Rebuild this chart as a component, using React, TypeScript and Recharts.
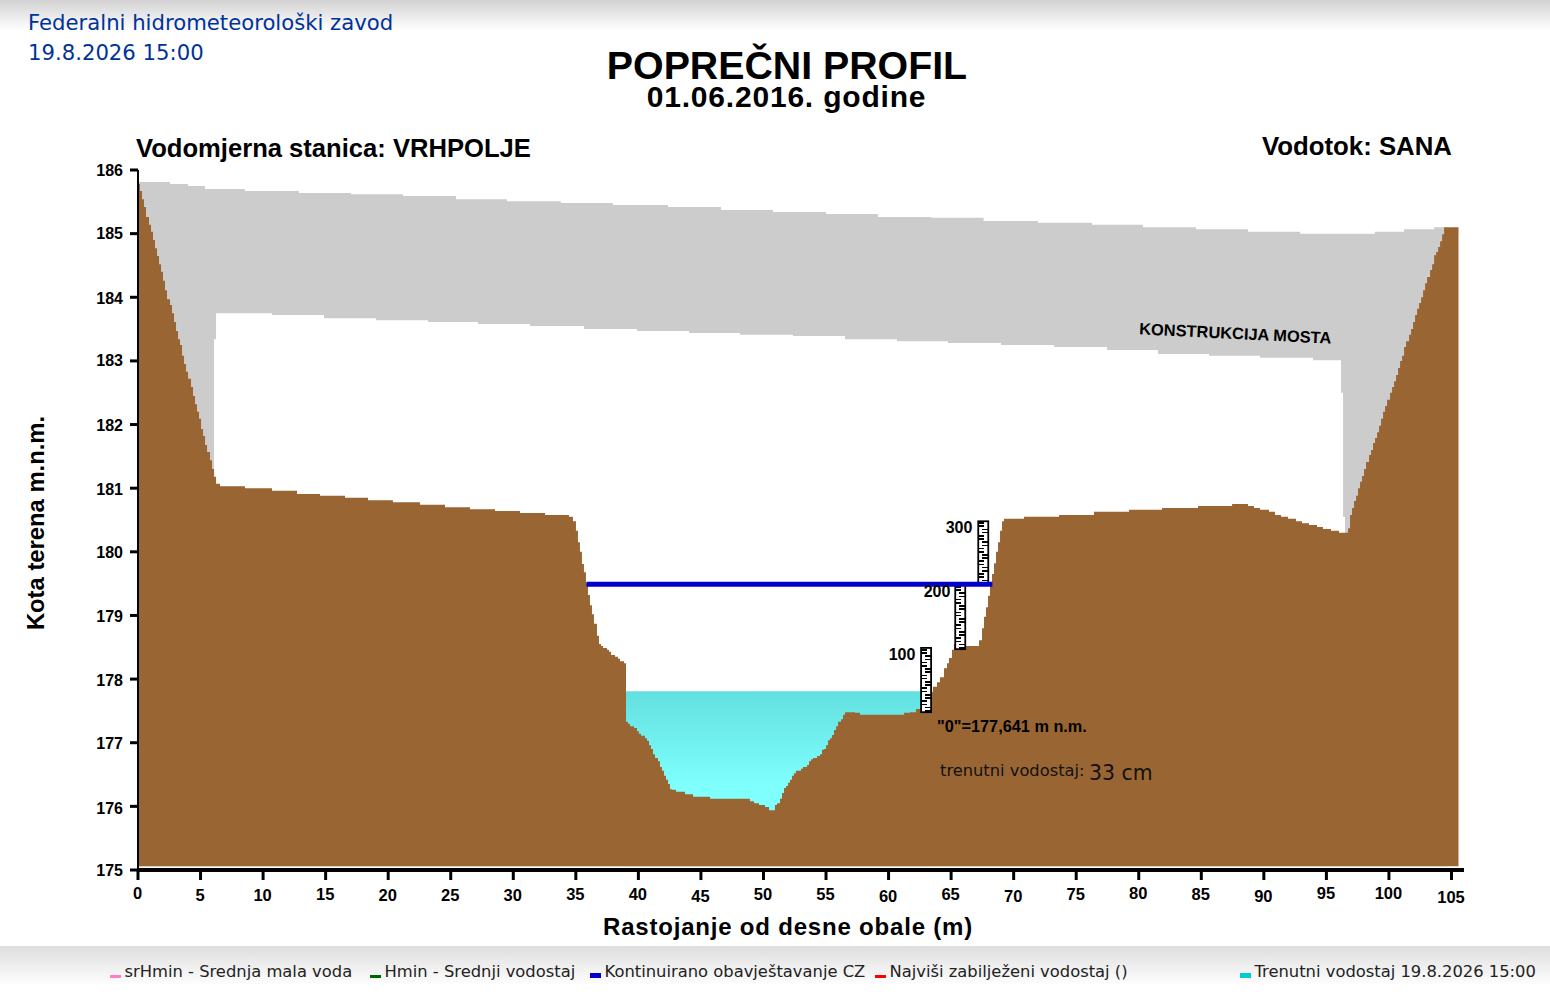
import { ComposedChart, Area, Line, XAxis, YAxis, ReferenceArea } from "recharts";

const ARIAL = "'Liberation Sans', Arial, sans-serif";
const VERDANA = "'DejaVu Sans', Verdana, sans-serif";

const distanceTicks = [0, 5, 10, 15, 20, 25, 30, 35, 40, 45, 50, 55, 60, 65, 70, 75, 80, 85, 90, 95, 100, 105];
const elevationTicks = [175, 176, 177, 178, 179, 180, 181, 182, 183, 184, 185, 186];

// the scanned axis labels do not sit on one line
const tickDrop: Record<number, number> = {
  0: -2, 5: 0, 10: 0, 15: -1, 20: 0, 25: 0, 30: 0, 35: -1, 40: -1, 45: 1, 50: -1,
  55: -1, 60: 1, 65: -1, 70: 1, 75: -1, 80: -2, 85: -1, 90: 1, 95: -2, 100: -2, 105: 2,
};
const elevationDrop: Record<number, number> = { 176: 2, 177: 1, 178: 1, 179: 1, 180: 1, 181: 1, 182: 1, 184: 1 };

// [distance m, elevation m]
const terrainPoints = [
  [0, 185.81], [0.16, 185.78], [0.32, 185.67], [0.48, 185.54], [0.64, 185.42], [0.88, 185.26], [1.04, 185.14],
  [1.2, 185.03], [1.36, 184.9], [1.52, 184.77], [1.68, 184.65], [1.84, 184.52], [2, 184.4], [2.16, 184.26],
  [2.32, 184.11], [2.56, 183.97], [2.72, 183.88], [2.88, 183.75], [3.04, 183.61], [3.2, 183.47], [3.36, 183.34],
  [3.52, 183.25], [3.68, 183.08], [3.84, 182.95], [4, 182.83], [4.24, 182.72], [4.4, 182.59], [4.56, 182.45],
  [4.72, 182.32], [4.88, 182.2], [5.04, 182.09], [5.2, 181.93], [5.36, 181.82], [5.52, 181.68], [5.76, 181.57],
  [5.92, 181.44], [6.08, 181.3], [6.24, 181.18], [6.56, 181.07], [8.55, 181.03], [10.71, 181], [12.71, 180.96],
  [14.55, 180.91], [16.55, 180.88], [18.39, 180.85], [20.38, 180.81], [22.54, 180.78], [24.54, 180.74],
  [26.54, 180.7], [28.54, 180.67], [30.54, 180.64], [32.54, 180.61], [34.45, 180.58], [34.77, 180.55],
  [35.01, 180.48], [35.17, 180.33], [35.33, 180.15], [35.49, 180], [35.65, 179.81], [35.81, 179.68],
  [35.97, 179.51], [36.13, 179.32], [36.29, 179.16], [36.45, 179.02], [36.69, 178.87], [36.85, 178.68],
  [37.01, 178.55], [37.17, 178.52], [37.49, 178.49], [37.65, 178.46], [37.81, 178.43], [38.13, 178.38],
  [38.37, 178.35], [38.53, 178.32], [38.85, 178.28], [39.01, 178.25], [39.17, 177.33], [39.33, 177.3],
  [39.65, 177.26], [39.89, 177.23], [40.05, 177.18], [40.21, 177.14], [40.53, 177.11], [40.69, 177.07],
  [40.85, 177.03], [41.01, 176.96], [41.17, 176.9], [41.33, 176.82], [41.57, 176.76], [41.73, 176.71],
  [41.89, 176.62], [42.05, 176.56], [42.21, 176.48], [42.37, 176.42], [42.53, 176.35], [42.69, 176.27],
  [43.01, 176.26], [43.73, 176.23], [44.37, 176.19], [45.73, 176.15], [48.92, 176.12], [49.24, 176.08],
  [49.64, 176.05], [50.12, 176.02], [50.44, 175.99], [50.92, 175.94], [51.08, 176.02], [51.32, 176.05],
  [51.48, 176.12], [51.64, 176.21], [51.8, 176.29], [51.96, 176.32], [52.12, 176.37], [52.28, 176.42],
  [52.44, 176.48], [52.6, 176.52], [53, 176.56], [53.16, 176.59], [53.48, 176.62], [53.64, 176.65],
  [53.8, 176.71], [53.96, 176.74], [54.28, 176.76], [54.52, 176.79], [54.68, 176.82], [54.84, 176.89],
  [55, 176.9], [55.16, 176.96], [55.32, 177.04], [55.48, 177.07], [55.64, 177.12], [55.8, 177.2],
  [55.96, 177.26], [56.2, 177.33], [56.36, 177.37], [56.52, 177.44], [57.32, 177.48], [57.72, 177.47],
  [61.23, 177.44], [61.71, 177.47], [62.19, 177.48], [62.75, 177.53], [63.31, 177.67], [63.55, 177.8],
  [63.87, 177.88], [64.11, 177.95], [64.43, 178.03], [64.67, 178.17], [64.83, 178.25], [65.07, 178.33],
  [65.23, 178.46], [66.11, 178.55], [66.67, 178.52], [67.23, 178.52], [67.47, 178.61], [67.63, 178.8],
  [67.79, 178.98], [67.95, 179.13], [68.11, 179.31], [68.27, 179.51], [68.43, 179.65], [68.59, 179.82],
  [68.75, 180], [68.91, 180.15], [69.07, 180.33], [69.23, 180.48], [69.31, 180.52], [70.83, 180.52],
  [73.63, 180.55], [76.42, 180.58], [79.22, 180.63], [81.86, 180.66], [84.74, 180.69], [87.46, 180.72],
  [88.73, 180.75], [89.21, 180.72], [89.69, 180.69], [90.41, 180.66], [90.89, 180.63], [91.37, 180.58],
  [91.93, 180.55], [92.57, 180.52], [93.05, 180.48], [93.61, 180.45], [94.25, 180.42], [94.73, 180.39],
  [95.37, 180.36], [96.01, 180.33], [96.73, 180.3], [96.89, 180.37], [97.05, 180.58], [97.21, 180.69],
  [97.37, 180.8], [97.53, 180.88], [97.69, 181], [97.85, 181.1], [98.01, 181.19], [98.17, 181.3],
  [98.41, 181.41], [98.57, 181.52], [98.73, 181.6], [98.89, 181.71], [99.05, 181.79], [99.21, 181.88],
  [99.37, 181.98], [99.53, 182.09], [99.69, 182.2], [99.85, 182.29], [100.09, 182.39], [100.25, 182.5],
  [100.41, 182.59], [100.57, 182.68], [100.73, 182.78], [100.89, 182.89], [101.05, 183], [101.21, 183.08],
  [101.37, 183.22], [101.61, 183.31], [101.77, 183.41], [101.93, 183.5], [102.09, 183.61], [102.25, 183.72],
  [102.41, 183.82], [102.57, 183.91], [102.73, 184], [102.89, 184.11], [103.05, 184.22], [103.29, 184.32],
  [103.45, 184.43], [103.61, 184.52], [103.77, 184.66], [103.93, 184.71], [104.09, 184.79], [104.25, 184.88],
  [104.41, 184.99], [104.57, 185.1], [105.56, 185.1],
];

const bridgeTopPoints = [
  [0, 185.81], [2.56, 185.81], [4, 185.78], [5.36, 185.75], [8.55, 185.7], [12.87, 185.67], [17.03, 185.64],
  [21.18, 185.62], [25.42, 185.59], [29.5, 185.54], [33.8, 185.51], [37.97, 185.48], [42.37, 185.45],
  [46.6, 185.42], [50.76, 185.37], [55, 185.34], [59.15, 185.31], [63.4, 185.26], [67.6, 185.25], [71.94, 185.2],
  [76.26, 185.17], [80.34, 185.14], [84.57, 185.1], [88.73, 185.07], [92.9, 185.03], [98.88, 185], [101.2, 185.03],
  [103.6, 185.07], [104.6, 185.1],
];

const bridgeUndersidePoints = [
  [6.08, 183.34], [6.24, 183.34], [10.71, 183.75], [14.87, 183.72], [19.03, 183.67], [23.18, 183.64], [27.18, 183.61],
  [31.34, 183.58], [35.65, 183.55], [39.89, 183.5], [44.05, 183.47], [48.12, 183.44], [52.36, 183.41], [56.52, 183.39],
  [60.67, 183.34], [64.75, 183.31], [68.99, 183.28], [73.23, 183.25], [77.46, 183.22], [81.54, 183.17], [85.62, 183.11],
  [89.69, 183.08], [93.93, 183.05], [96.17, 183.01], [96.33, 182.5], [96.49, 180.55],
];

const waterPoints = [[39.01, 177.81], [63.4, 177.81]];
const warningLevelPoints = [[35.85, 179.49], [68.3, 179.49]];

// one staff gauge per metre of stage: [x1, x2, y1, y2]
const gaugeBoxes = [
  [62.6, 63.4, 177.48, 178.49],
  [65.33, 66.13, 178.47, 179.48],
  [67.17, 67.97, 179.48, 180.48],
];
const gaugeLabels = [
  { text: "100", x: 902, y: 660 },
  { text: "200", x: 937, y: 597 },
  { text: "300", x: 959, y: 533 },
];

const legendItems = [
  { label: "srHmin - Srednja mala voda", color: "#ff80c0", x: 110, h: 3 },
  { label: "Hmin - Srednji vodostaj", color: "#006600", x: 370, h: 3 },
  { label: "Kontinuirano obavještavanje CZ", color: "#0000cc", x: 590, h: 5 },
  { label: "Najviši zabilježeni vodostaj ()", color: "#ff0000", x: 875, h: 3 },
  { label: "Trenutni vodostaj 19.8.2026 15:00", color: "#00cccc", x: 1240, h: 5 },
];

const toRows = (pts: number[][]) => pts.map(([m, v]) => ({ m, v }));

function DistanceTick({ x, y, payload }: any) {
  return (
    <text x={x - 0.5} y={y + 19 + (tickDrop[payload.value] ?? 0)} textAnchor="middle" fontFamily={ARIAL} fontWeight="bold" fontSize={16.5} fill="#000">
      {payload.value}
    </text>
  );
}

function ElevationTick({ x, y, payload }: any) {
  return (
    <text x={x} y={y + 5.5 + (elevationDrop[payload.value] ?? 0)} textAnchor="end" fontFamily={ARIAL} fontWeight="bold" fontSize={16} fill="#000">
      {payload.value}
    </text>
  );
}

function GaugeShape({ x, y, width, height }: any) {
  const marks = [];
  const step = height / 10;
  for (let d = 0; d < 10; d++) {
    const onLeft = d % 2 === 0;
    for (let k = 0; k < 2; k++) {
      marks.push(
        <rect
          key={`${d}-${k}`}
          x={onLeft ? x : x + width * 0.4}
          y={y + d * step + 1 + k * (step / 2)}
          width={width * 0.6}
          height={1.6}
          fill="#000"
          shapeRendering="crispEdges"
        />
      );
    }
  }
  return (
    <g>
      <rect x={x} y={y} width={width} height={height} fill="#fff" stroke="#000" strokeWidth={1.8} />
      {marks}
    </g>
  );
}

export default function App() {
  return (
    <div style={{ position: "absolute", left: 0, top: 0, width: 1550, height: 1000, background: "#fff", overflow: "hidden" }}>
      <div style={{ position: "absolute", left: 0, top: 0, width: 1550, height: 30, background: "linear-gradient(#d2d2d2, #ffffff)" }} />
      <div style={{ position: "absolute", left: 0, top: 946, width: 1550, height: 40, background: "linear-gradient(#dedede, #ffffff)" }} />

      <div style={{ position: "absolute", left: 0, top: 0 }}>
        <ComposedChart width={1550} height={1000} margin={{ top: 170, right: 86, bottom: 0, left: 0 }}>
          <defs>
            <linearGradient id="waterFill" x1="0" y1="0" x2="0" y2="1">
              <stop offset="0%" stopColor="#62e0e0" />
              <stop offset="54%" stopColor="#80ffff" />
              <stop offset="100%" stopColor="#80ffff" />
            </linearGradient>
          </defs>
          <XAxis
            type="number"
            dataKey="m"
            domain={[0, 106]}
            ticks={distanceTicks}
            interval={0}
            height={130}
            tickSize={10}
            tickMargin={2}
            tick={<DistanceTick />}
            tickLine={{ stroke: "#000", strokeWidth: 3 }}
            axisLine={{ stroke: "#000", strokeWidth: 4 }}
          />
          <YAxis
            type="number"
            domain={[175, 186]}
            ticks={elevationTicks}
            interval={0}
            width={138}
            tickSize={8}
            tickMargin={7}
            tick={<ElevationTick />}
            tickLine={{ stroke: "#000", strokeWidth: 3 }}
            axisLine={{ stroke: "#000", strokeWidth: 2 }}
          />
          <Area data={toRows(bridgeTopPoints)} dataKey="v" type="stepBefore" baseValue={175.06} fill="#cccccc" fillOpacity={1} stroke="none" dot={false} activeDot={false} isAnimationActive={false} />
          <Area data={toRows(bridgeUndersidePoints)} dataKey="v" type="stepBefore" baseValue={175.06} fill="#ffffff" fillOpacity={1} stroke="none" dot={false} activeDot={false} isAnimationActive={false} />
          <Area data={toRows(waterPoints)} dataKey="v" type="linear" baseValue={175.06} fill="url(#waterFill)" fillOpacity={1} stroke="none" dot={false} activeDot={false} isAnimationActive={false} />
          <Area data={toRows(terrainPoints)} dataKey="v" type="stepBefore" baseValue={175.06} fill="#996633" fillOpacity={1} stroke="none" dot={false} activeDot={false} isAnimationActive={false} />
          <Line data={toRows(warningLevelPoints)} dataKey="v" type="linear" stroke="#0000cc" strokeWidth={5} dot={false} activeDot={false} isAnimationActive={false} />
          {gaugeBoxes.map(([x1, x2, y1, y2]) => (
            <ReferenceArea key={x1} x1={x1} x2={x2} y1={y1} y2={y2} ifOverflow="visible" shape={<GaugeShape />} />
          ))}
        </ComposedChart>
      </div>

      <svg width={1550} height={1000} style={{ position: "absolute", left: 0, top: 0, pointerEvents: "none" }}>
        <g fontFamily={VERDANA} fontSize={21.2} fill="#003399">
          <text x={28} y={30}>Federalni hidrometeorološki zavod</text>
          <text x={28} y={60}>19.8.2026 15:00</text>
        </g>
        <g fontFamily={ARIAL} fontWeight="bold" fill="#000">
          <text x={787} y={79} textAnchor="middle" fontSize={39.3}>POPREČNI PROFIL</text>
          <text x={786.5} y={107} textAnchor="middle" fontSize={30} letterSpacing={0.8}>01.06.2016. godine</text>
          <text x={136} y={157} fontSize={25.6}>Vodomjerna stanica: VRHPOLJE</text>
          <text x={1452} y={155} textAnchor="end" fontSize={25.8}>Vodotok: SANA</text>
          <text transform="translate(44 523) rotate(-90)" textAnchor="middle" fontSize={23.8}>Kota terena m.n.m.</text>
          <text x={788} y={935} textAnchor="middle" fontSize={24} letterSpacing={0.8}>Rastojanje od desne obale (m)</text>
          <text transform="translate(1235 339) rotate(2.8)" textAnchor="middle" fontSize={16.4}>KONSTRUKCIJA MOSTA</text>
          <text x={937} y={732} fontSize={16.3}>"0"=177,641 m n.m.</text>
          {gaugeLabels.map((g) => (
            <text key={g.text} x={g.x} y={g.y} textAnchor="middle" fontSize={16}>{g.text}</text>
          ))}
        </g>
        <g fontFamily={VERDANA} fill="#111">
          <text x={940} y={776} fontSize={16.3}>trenutni vodostaj:</text>
          <text x={1089} y={780} fontSize={20.4}>33 cm</text>
        </g>
        <g fontFamily={VERDANA} fontSize={16.35} fill="#222">
          {legendItems.map((it) => (
            <g key={it.label}>
              <rect x={it.x} y={978 - it.h} width={11} height={it.h} fill={it.color} />
              <text x={it.x + 14.5} y={977}>{it.label}</text>
            </g>
          ))}
        </g>
      </svg>
    </div>
  );
}
